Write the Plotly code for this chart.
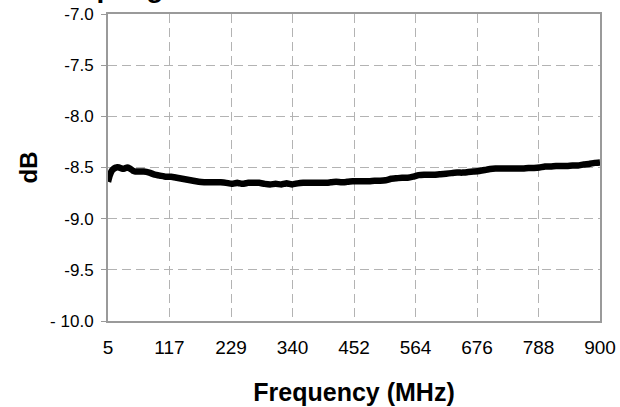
import plotly.graph_objects as go

freq_mhz = [5, 8, 12, 16, 20, 25, 30, 35, 40, 45, 50, 55, 60, 70, 80, 90, 100, 110,
            120, 130, 140, 150, 160, 170, 180, 190, 200, 210, 220, 230, 240, 250,
            260, 270, 280, 290, 300, 310, 320, 330, 340, 350, 360, 370, 380, 390,
            400, 410, 420, 430, 440, 450, 460, 470, 480, 490, 500, 510, 520, 530,
            540, 550, 560, 570, 580, 590, 600, 610, 620, 630, 640, 650, 660, 670,
            680, 690, 700, 710, 720, 730, 740, 750, 760, 770, 780, 790, 800, 810,
            820, 830, 840, 850, 860, 870, 880, 890, 900]
loss_db = [-8.64, -8.58, -8.53, -8.51, -8.50, -8.50, -8.51, -8.51, -8.50, -8.51,
           -8.53, -8.54, -8.54, -8.54, -8.55, -8.57, -8.58, -8.59, -8.59, -8.60,
           -8.61, -8.62, -8.63, -8.64, -8.645, -8.645, -8.645, -8.645, -8.65, -8.66,
           -8.65, -8.66, -8.65, -8.65, -8.65, -8.66, -8.665, -8.66, -8.665, -8.655,
           -8.665, -8.655, -8.65, -8.65, -8.65, -8.65, -8.65, -8.645, -8.64, -8.645,
           -8.64, -8.635, -8.635, -8.635, -8.635, -8.63, -8.63, -8.625, -8.61, -8.605,
           -8.60, -8.60, -8.59, -8.575, -8.57, -8.57, -8.57, -8.565, -8.56, -8.555,
           -8.55, -8.55, -8.545, -8.54, -8.535, -8.525, -8.515, -8.51, -8.51, -8.51,
           -8.51, -8.51, -8.51, -8.505, -8.505, -8.50, -8.49, -8.49, -8.485, -8.485,
           -8.485, -8.48, -8.48, -8.47, -8.465, -8.455, -8.45]

x_tick_vals = [5, 116.875, 228.75, 340.625, 452.5, 564.375, 676.25, 788.125, 900]
x_tick_text = ["5", "117", "229", "340", "452", "564", "676", "788", "900"]
y_tick_vals = [-10.0, -9.5, -9.0, -8.5, -8.0, -7.5, -7.0]
y_tick_text = ["- 10.0", "-9.5", "-9.0", "-8.5", "-8.0", "-7.5", "-7.0"]

fig = go.Figure()
fig.add_trace(go.Scatter(x=freq_mhz, y=loss_db, mode="lines",
                         line=dict(color="#000000", width=6.5, shape="spline", smoothing=0.3),
                         showlegend=False, hoverinfo="skip"))

grid_col = "#b3b3b3"
axis_col = "#9a9a9a"
fig.update_layout(
    width=620, height=407,
    margin=dict(l=108, r=20, t=14, b=86),
    paper_bgcolor="white", plot_bgcolor="white",
    font=dict(family="Liberation Sans, Arial, sans-serif", color="#000000"),
    xaxis=dict(range=[5, 900], tickmode="array", tickvals=x_tick_vals, ticktext=x_tick_text,
               showgrid=True, gridcolor=grid_col, gridwidth=1, griddash="9px,5px",
               showline=True, linecolor=axis_col, linewidth=2, mirror=True,
               ticks="", ticklabelstandoff=8, zeroline=False, automargin=False,
               tickfont=dict(size=19),
               title=dict(text="<b>Frequency (MHz)</b>", font=dict(size=25), standoff=27)),
    yaxis=dict(range=[-10, -7], tickmode="array", tickvals=y_tick_vals, ticktext=y_tick_text,
               showgrid=True, gridcolor=grid_col, gridwidth=1, griddash="9px,5px",
               showline=True, linecolor=axis_col, linewidth=2, mirror=True,
               ticks="outside", ticklen=5, tickcolor=axis_col, tickwidth=1,
               ticklabelstandoff=4, zeroline=False, automargin=False,
               tickfont=dict(size=17),
               title=dict(text="<b>dB</b>", font=dict(size=24), standoff=6)),
)
fig.add_annotation(text="<b>Coupling</b>", xref="paper", yref="paper",
                   x=-0.138, y=1.028, xanchor="left", yanchor="bottom",
                   showarrow=False, font=dict(size=28))

fig.write_html("out.html", config={"displayModeBar": False},
               post_script="document.body.style.margin='0';")
